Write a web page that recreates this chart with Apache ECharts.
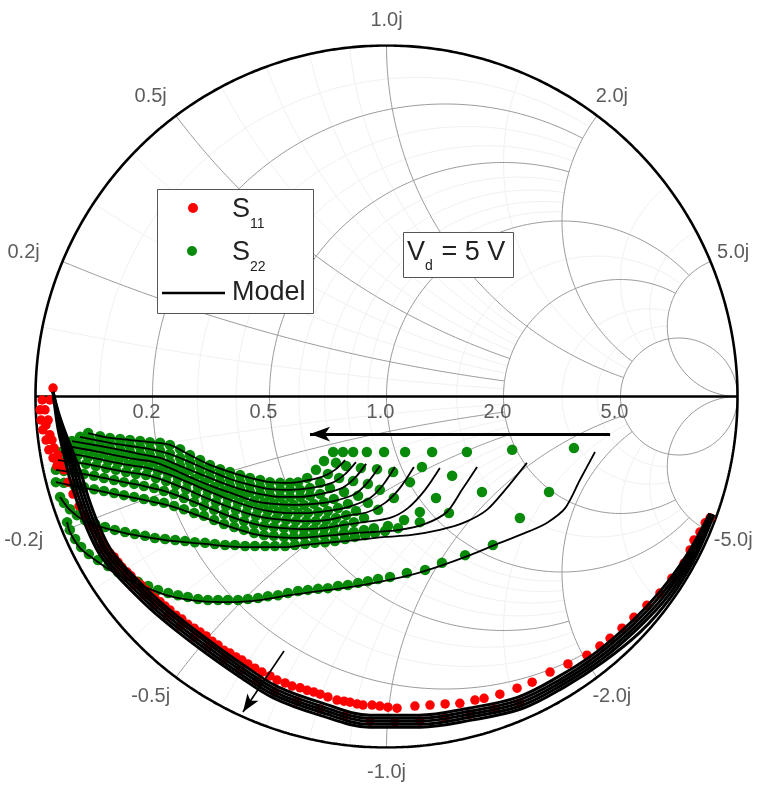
<!DOCTYPE html>
<html>
<head>
<meta charset="utf-8">
<script src="https://cdn.jsdelivr.net/npm/echarts@6/dist/echarts.min.js"></script>
<style>
html,body{margin:0;padding:0;background:#fff}
#chart{width:757px;height:785px}
</style>
</head>
<body>
<div id="chart"></div>
<script>
// Smith chart grid definition (normalized impedance z = r + jx)
const RES = [0.2, 0.5, 1.0, 2.0, 5.0];
const RES_LIMIT = [2, 2, 5, 5, Infinity];
const REA = [0.2, 0.5, 1.0, 2.0, 5.0];
const REA_LIMIT = [2, 2, 5, 5, Infinity];
const RES_MINOR = [0.1, 0.3, 0.4, 0.6, 0.7, 0.8, 0.9, 1.5, 3, 4];
const REA_MINOR = [0.1, 0.3, 0.4, 0.6, 0.7, 0.8, 0.9, 1.5, 3, 4];
const resLabels = ['0.2', '0.5', '1.0', '2.0', '5.0'];
const reaLabels = ['0.2j', '0.5j', '1.0j', '2.0j', '5.0j'];

// Measured S11, reflection coefficient [Re, Im]
const s11Data = [
  [-0.950,0.024],[-0.981,-0.010],[-0.987,-0.038],[-0.984,-0.067],[-0.979,-0.095],[-0.970,-0.124],
  [-0.962,-0.152],[-0.950,-0.175],[-0.939,-0.198],[-0.959,-0.010],[-0.964,-0.067],[-0.953,-0.124],
  [-0.936,-0.167],[-0.973,-0.038],[-0.970,-0.081],[-0.959,-0.109],[-0.947,-0.147],[-0.930,-0.187],
  [-0.919,-0.209],[-0.907,-0.244],[-0.893,-0.278],[-0.876,-0.312],[-0.859,-0.340],[-0.842,-0.369],
  [-0.830,-0.380],[-0.819,-0.397],[-0.808,-0.417],[-0.799,-0.432],[-0.788,-0.446],[-0.776,-0.457],
  [-0.765,-0.472],[-0.754,-0.486],[-0.739,-0.500],[-0.728,-0.511],[-0.714,-0.526],[-0.699,-0.537],
  [-0.685,-0.551],[-0.674,-0.563],[-0.660,-0.574],[-0.645,-0.585],[-0.631,-0.597],[-0.617,-0.608],
  [-0.600,-0.623],[-0.583,-0.634],[-0.566,-0.649],[-0.548,-0.660],[-0.531,-0.671],[-0.514,-0.682],
  [-0.497,-0.697],[-0.480,-0.708],[-0.463,-0.723],[-0.446,-0.731],[-0.429,-0.742],[-0.412,-0.751],
  [-0.395,-0.762],[-0.375,-0.774],[-0.355,-0.785],[-0.332,-0.796],[-0.312,-0.808],[-0.289,-0.816],
  [-0.269,-0.825],[-0.246,-0.830],[-0.226,-0.837],[-0.207,-0.842],[-0.189,-0.848],[-0.167,-0.856],
  [-0.141,-0.865],[-0.121,-0.868],[-0.104,-0.871],[-0.084,-0.876],[-0.067,-0.879],[-0.041,-0.879],
  [-0.019,-0.882],[0.004,-0.885],[0.030,-0.888],[0.081,-0.882],[0.124,-0.879],[0.167,-0.876],
  [0.209,-0.874],[0.252,-0.865],[0.278,-0.860],[0.323,-0.848],[0.372,-0.831],[0.415,-0.814],
  [0.466,-0.785],[0.517,-0.762],[0.571,-0.737],[0.608,-0.711],[0.637,-0.689],[0.671,-0.660],
  [0.705,-0.629],[0.742,-0.595],[0.779,-0.560],[0.813,-0.518],[0.848,-0.475],[0.865,-0.437],
  [0.876,-0.409],[0.893,-0.386],[0.908,-0.360],[0.922,-0.346],
  [-0.805,-0.437],[-0.785,-0.463],[-0.765,-0.489],[-0.742,-0.514],[-0.719,-0.537],[-0.691,-0.566],
  [-0.660,-0.594],[-0.625,-0.625],[-0.588,-0.654],[-0.548,-0.685],[-0.509,-0.714],[-0.463,-0.748],
  [-0.417,-0.779],[-0.369,-0.811],[-0.318,-0.842],[-0.255,-0.868],[-0.189,-0.890],[-0.118,-0.910],
  [-0.047,-0.925],[0.024,-0.927],[0.095,-0.925],[0.167,-0.916],[0.238,-0.905],[0.309,-0.890],
  [0.380,-0.873]
];

// Modelled S11 traces
const s11Model = [
  [[-0.950,0.013],[-0.935,-0.044],[-0.916,-0.100],[-0.894,-0.156],[-0.870,-0.220],[-0.849,-0.289],[-0.823,-0.359],[-0.790,-0.429],[-0.751,-0.480],[-0.705,-0.527],[-0.647,-0.583],[-0.577,-0.641],[-0.499,-0.700],[-0.409,-0.764],[-0.312,-0.826],[-0.185,-0.873],[-0.046,-0.908],[0.093,-0.908],[0.234,-0.888],[0.373,-0.857],[0.485,-0.801],[0.597,-0.729],[0.698,-0.642],[0.779,-0.556],[0.854,-0.454],[0.921,-0.333]],
  [[-0.950,0.013],[-0.937,-0.044],[-0.921,-0.100],[-0.901,-0.157],[-0.879,-0.222],[-0.857,-0.292],[-0.831,-0.363],[-0.798,-0.433],[-0.758,-0.484],[-0.712,-0.532],[-0.654,-0.588],[-0.582,-0.648],[-0.504,-0.707],[-0.413,-0.772],[-0.315,-0.834],[-0.187,-0.882],[-0.047,-0.917],[0.094,-0.917],[0.236,-0.897],[0.377,-0.865],[0.490,-0.809],[0.603,-0.735],[0.705,-0.648],[0.786,-0.561],[0.860,-0.457],[0.924,-0.334]],
  [[-0.950,0.013],[-0.939,-0.044],[-0.925,-0.101],[-0.907,-0.158],[-0.887,-0.224],[-0.865,-0.295],[-0.839,-0.366],[-0.805,-0.437],[-0.765,-0.489],[-0.719,-0.537],[-0.660,-0.594],[-0.588,-0.654],[-0.509,-0.714],[-0.417,-0.779],[-0.318,-0.842],[-0.189,-0.890],[-0.047,-0.925],[0.095,-0.925],[0.238,-0.905],[0.380,-0.873],[0.494,-0.816],[0.608,-0.742],[0.711,-0.654],[0.793,-0.566],[0.865,-0.460],[0.927,-0.335]],
  [[-0.950,0.013],[-0.941,-0.044],[-0.929,-0.102],[-0.913,-0.159],[-0.895,-0.226],[-0.873,-0.298],[-0.847,-0.369],[-0.813,-0.441],[-0.772,-0.494],[-0.726,-0.542],[-0.666,-0.600],[-0.594,-0.660],[-0.514,-0.721],[-0.421,-0.787],[-0.321,-0.850],[-0.191,-0.898],[-0.047,-0.934],[0.096,-0.934],[0.240,-0.913],[0.383,-0.881],[0.498,-0.823],[0.613,-0.749],[0.717,-0.660],[0.800,-0.571],[0.870,-0.463],[0.930,-0.336]],
  [[-0.950,0.013],[-0.943,-0.044],[-0.934,-0.102],[-0.920,-0.160],[-0.904,-0.228],[-0.881,-0.301],[-0.855,-0.373],[-0.820,-0.445],[-0.779,-0.498],[-0.733,-0.547],[-0.673,-0.605],[-0.599,-0.667],[-0.519,-0.728],[-0.425,-0.794],[-0.324,-0.858],[-0.193,-0.907],[-0.048,-0.942],[0.097,-0.942],[0.242,-0.922],[0.387,-0.889],[0.503,-0.830],[0.619,-0.755],[0.724,-0.670],[0.807,-0.576],[0.876,-0.466],[0.933,-0.337]]
];

// Measured S22, one trace per gate bias, low frequency first
const s22Data = [
  [[-0.152,-0.158],[-0.178,-0.184],[-0.201,-0.209],[-0.226,-0.232],[-0.252,-0.244],[-0.275,-0.246],[-0.303,-0.246],[-0.332,-0.244],[-0.360,-0.238],[-0.389,-0.232],[-0.417,-0.224],[-0.446,-0.215],[-0.474,-0.207],[-0.503,-0.195],[-0.531,-0.181],[-0.560,-0.167],[-0.588,-0.150],[-0.617,-0.138],[-0.645,-0.132],[-0.674,-0.130],[-0.702,-0.127],[-0.731,-0.124],[-0.759,-0.121],[-0.788,-0.118],[-0.816,-0.113],[-0.850,-0.104]],
  [[-0.124,-0.158],[-0.144,-0.189],[-0.167,-0.221],[-0.189,-0.246],[-0.218,-0.261],[-0.246,-0.266],[-0.275,-0.266],[-0.303,-0.266],[-0.332,-0.264],[-0.360,-0.258],[-0.389,-0.252],[-0.417,-0.244],[-0.446,-0.235],[-0.474,-0.224],[-0.503,-0.212],[-0.531,-0.201],[-0.560,-0.187],[-0.588,-0.175],[-0.617,-0.164],[-0.645,-0.155],[-0.674,-0.150],[-0.702,-0.144],[-0.731,-0.141],[-0.759,-0.135],[-0.788,-0.132],[-0.816,-0.127],[-0.845,-0.121],[-0.873,-0.115]],
  [[-0.095,-0.158],[-0.115,-0.198],[-0.135,-0.232],[-0.161,-0.261],[-0.189,-0.278],[-0.218,-0.283],[-0.246,-0.286],[-0.275,-0.286],[-0.303,-0.286],[-0.332,-0.283],[-0.360,-0.278],[-0.389,-0.272],[-0.417,-0.264],[-0.446,-0.255],[-0.474,-0.244],[-0.503,-0.232],[-0.531,-0.221],[-0.560,-0.209],[-0.588,-0.198],[-0.617,-0.187],[-0.645,-0.175],[-0.674,-0.167],[-0.702,-0.164],[-0.731,-0.158],[-0.759,-0.152],[-0.788,-0.147],[-0.816,-0.141],[-0.845,-0.135],[-0.873,-0.130],[-0.896,-0.127]],
  [[-0.056,-0.158],[-0.073,-0.204],[-0.095,-0.241],[-0.121,-0.272],[-0.150,-0.292],[-0.178,-0.301],[-0.207,-0.306],[-0.235,-0.309],[-0.264,-0.309],[-0.292,-0.309],[-0.321,-0.306],[-0.349,-0.303],[-0.377,-0.298],[-0.406,-0.286],[-0.434,-0.278],[-0.463,-0.269],[-0.491,-0.258],[-0.520,-0.246],[-0.548,-0.235],[-0.577,-0.221],[-0.605,-0.209],[-0.634,-0.198],[-0.662,-0.187],[-0.691,-0.181],[-0.719,-0.178],[-0.748,-0.172],[-0.776,-0.167],[-0.805,-0.161],[-0.833,-0.155],[-0.862,-0.150],[-0.890,-0.144],[-0.913,-0.141]],
  [[-0.007,-0.158],[-0.027,-0.207],[-0.053,-0.249],[-0.081,-0.283],[-0.110,-0.306],[-0.138,-0.318],[-0.167,-0.326],[-0.195,-0.329],[-0.224,-0.332],[-0.252,-0.332],[-0.281,-0.332],[-0.309,-0.329],[-0.338,-0.326],[-0.366,-0.321],[-0.395,-0.312],[-0.423,-0.303],[-0.452,-0.292],[-0.480,-0.281],[-0.509,-0.269],[-0.537,-0.258],[-0.566,-0.244],[-0.594,-0.232],[-0.622,-0.221],[-0.651,-0.212],[-0.679,-0.204],[-0.708,-0.198],[-0.736,-0.195],[-0.765,-0.189],[-0.793,-0.184],[-0.822,-0.178],[-0.850,-0.172],[-0.879,-0.167],[-0.907,-0.161],[-0.927,-0.158]],
  [[0.053,-0.158],[0.019,-0.215],[-0.019,-0.266],[-0.053,-0.303],[-0.087,-0.326],[-0.115,-0.338],[-0.144,-0.346],[-0.172,-0.352],[-0.201,-0.355],[-0.229,-0.355],[-0.258,-0.355],[-0.286,-0.352],[-0.315,-0.349],[-0.343,-0.346],[-0.372,-0.340],[-0.400,-0.332],[-0.429,-0.323],[-0.457,-0.312],[-0.486,-0.301],[-0.514,-0.289],[-0.543,-0.278],[-0.571,-0.264],[-0.600,-0.252],[-0.628,-0.241],[-0.657,-0.232],[-0.685,-0.224],[-0.714,-0.221],[-0.742,-0.215],[-0.771,-0.209],[-0.799,-0.204],[-0.828,-0.198],[-0.856,-0.192],[-0.885,-0.187],[-0.913,-0.184],[-0.936,-0.181]],
  [[0.130,-0.158],[0.101,-0.201],[0.067,-0.244],[0.021,-0.289],[-0.024,-0.323],[-0.064,-0.346],[-0.093,-0.358],[-0.121,-0.366],[-0.150,-0.372],[-0.178,-0.375],[-0.207,-0.378],[-0.235,-0.378],[-0.264,-0.378],[-0.292,-0.375],[-0.321,-0.372],[-0.349,-0.369],[-0.377,-0.363],[-0.406,-0.355],[-0.434,-0.346],[-0.463,-0.335],[-0.491,-0.323],[-0.520,-0.312],[-0.548,-0.301],[-0.577,-0.289],[-0.605,-0.278],[-0.634,-0.269],[-0.662,-0.261],[-0.691,-0.255],[-0.719,-0.249],[-0.748,-0.244],[-0.776,-0.238],[-0.805,-0.232],[-0.833,-0.226],[-0.862,-0.221],[-0.890,-0.215],[-0.919,-0.212],[-0.942,-0.209]],
  [[0.229,-0.158],[0.187,-0.226],[0.141,-0.289],[0.095,-0.329],[0.050,-0.352],[0.004,-0.369],[-0.036,-0.375],[-0.064,-0.380],[-0.093,-0.386],[-0.121,-0.389],[-0.150,-0.392],[-0.178,-0.395],[-0.207,-0.397],[-0.235,-0.397],[-0.264,-0.400],[-0.292,-0.400],[-0.321,-0.397],[-0.349,-0.395],[-0.377,-0.389],[-0.406,-0.380],[-0.434,-0.372],[-0.463,-0.363],[-0.491,-0.352],[-0.520,-0.340],[-0.548,-0.332],[-0.577,-0.321],[-0.605,-0.312],[-0.634,-0.303],[-0.662,-0.298],[-0.691,-0.292],[-0.719,-0.286],[-0.748,-0.281],[-0.776,-0.275],[-0.805,-0.269],[-0.833,-0.264],[-0.862,-0.258],[-0.890,-0.252],[-0.919,-0.246],[-0.942,-0.244]],
  [[0.358,-0.152],[0.272,-0.272],[0.178,-0.332],[0.095,-0.358],[0.033,-0.375],[-0.004,-0.383],[-0.033,-0.389],[-0.061,-0.395],[-0.090,-0.400],[-0.118,-0.406],[-0.147,-0.412],[-0.175,-0.415],[-0.204,-0.417],[-0.232,-0.420],[-0.261,-0.423],[-0.289,-0.426],[-0.318,-0.426],[-0.346,-0.426],[-0.375,-0.426],[-0.403,-0.426],[-0.432,-0.423],[-0.460,-0.423],[-0.489,-0.420],[-0.517,-0.417],[-0.546,-0.415],[-0.574,-0.412],[-0.602,-0.409],[-0.631,-0.406],[-0.660,-0.403],[-0.688,-0.397],[-0.717,-0.392],[-0.745,-0.386],[-0.774,-0.380],[-0.802,-0.372],[-0.830,-0.363],[-0.859,-0.352],[-0.882,-0.338],[-0.902,-0.321],[-0.919,-0.303],[-0.930,-0.286]],
  [[0.534,-0.147],[0.463,-0.272],[0.380,-0.346],[0.303,-0.423],[0.224,-0.452],[0.158,-0.474],[0.110,-0.494],[0.058,-0.503],[0.010,-0.514],[-0.024,-0.520],[-0.053,-0.526],[-0.081,-0.531],[-0.110,-0.537],[-0.138,-0.540],[-0.167,-0.546],[-0.195,-0.548],[-0.224,-0.551],[-0.252,-0.554],[-0.281,-0.560],[-0.309,-0.566],[-0.338,-0.569],[-0.366,-0.574],[-0.395,-0.577],[-0.423,-0.580],[-0.452,-0.580],[-0.480,-0.580],[-0.509,-0.580],[-0.537,-0.577],[-0.566,-0.571],[-0.594,-0.566],[-0.622,-0.560],[-0.651,-0.551],[-0.679,-0.540],[-0.708,-0.528],[-0.736,-0.514],[-0.765,-0.500],[-0.793,-0.483],[-0.822,-0.466],[-0.848,-0.449],[-0.870,-0.429],[-0.887,-0.406],[-0.902,-0.380],[-0.910,-0.358]]
];

// Modelled S22 traces
const s22Model = [
  [[-0.118,-0.181],[-0.147,-0.209],[-0.184,-0.229],[-0.252,-0.244],[-0.275,-0.246],[-0.332,-0.244],[-0.389,-0.232],[-0.446,-0.215],[-0.503,-0.195],[-0.560,-0.167],[-0.617,-0.138],[-0.674,-0.130],[-0.731,-0.124],[-0.788,-0.118],[-0.850,-0.104]],
  [[-0.087,-0.187],[-0.118,-0.221],[-0.155,-0.246],[-0.218,-0.261],[-0.275,-0.266],[-0.332,-0.264],[-0.389,-0.252],[-0.446,-0.235],[-0.503,-0.212],[-0.560,-0.187],[-0.617,-0.164],[-0.674,-0.150],[-0.731,-0.141],[-0.788,-0.132],[-0.845,-0.121],[-0.873,-0.115]],
  [[-0.058,-0.192],[-0.090,-0.232],[-0.127,-0.261],[-0.189,-0.278],[-0.246,-0.286],[-0.303,-0.286],[-0.360,-0.278],[-0.417,-0.264],[-0.474,-0.244],[-0.531,-0.221],[-0.588,-0.198],[-0.645,-0.175],[-0.702,-0.164],[-0.759,-0.152],[-0.816,-0.141],[-0.896,-0.127]],
  [[-0.019,-0.198],[-0.053,-0.244],[-0.090,-0.278],[-0.150,-0.298],[-0.207,-0.306],[-0.264,-0.309],[-0.321,-0.306],[-0.377,-0.298],[-0.434,-0.278],[-0.491,-0.258],[-0.548,-0.235],[-0.605,-0.209],[-0.662,-0.187],[-0.719,-0.178],[-0.776,-0.167],[-0.833,-0.155],[-0.913,-0.141]],
  [[0.024,-0.201],[-0.010,-0.252],[-0.047,-0.289],[-0.110,-0.315],[-0.167,-0.326],[-0.224,-0.332],[-0.281,-0.332],[-0.338,-0.326],[-0.395,-0.312],[-0.452,-0.292],[-0.509,-0.269],[-0.566,-0.244],[-0.622,-0.221],[-0.679,-0.204],[-0.736,-0.195],[-0.793,-0.184],[-0.850,-0.172],[-0.927,-0.158]],
  [[0.078,-0.201],[0.038,-0.261],[-0.004,-0.303],[-0.053,-0.329],[-0.115,-0.340],[-0.172,-0.352],[-0.229,-0.355],[-0.286,-0.352],[-0.343,-0.346],[-0.400,-0.332],[-0.457,-0.312],[-0.514,-0.289],[-0.571,-0.264],[-0.628,-0.241],[-0.685,-0.224],[-0.742,-0.215],[-0.799,-0.204],[-0.856,-0.192],[-0.936,-0.181]],
  [[0.152,-0.204],[0.110,-0.266],[0.061,-0.318],[0.010,-0.346],[-0.064,-0.358],[-0.121,-0.366],[-0.178,-0.375],[-0.235,-0.378],[-0.292,-0.375],[-0.349,-0.369],[-0.406,-0.355],[-0.463,-0.335],[-0.520,-0.312],[-0.577,-0.289],[-0.634,-0.269],[-0.691,-0.255],[-0.748,-0.244],[-0.805,-0.232],[-0.862,-0.221],[-0.942,-0.209]],
  [[0.258,-0.201],[0.215,-0.266],[0.172,-0.329],[0.110,-0.363],[0.038,-0.380],[-0.036,-0.386],[-0.093,-0.389],[-0.150,-0.395],[-0.207,-0.400],[-0.264,-0.403],[-0.321,-0.400],[-0.377,-0.392],[-0.434,-0.375],[-0.491,-0.355],[-0.548,-0.335],[-0.605,-0.315],[-0.662,-0.301],[-0.719,-0.289],[-0.776,-0.278],[-0.833,-0.266],[-0.890,-0.255],[-0.942,-0.244]],
  [[0.400,-0.189],[0.338,-0.266],[0.286,-0.323],[0.224,-0.358],[0.152,-0.380],[0.067,-0.395],[-0.004,-0.400],[-0.061,-0.406],[-0.118,-0.412],[-0.175,-0.417],[-0.232,-0.423],[-0.289,-0.429],[-0.346,-0.429],[-0.403,-0.429],[-0.460,-0.426],[-0.517,-0.420],[-0.574,-0.415],[-0.631,-0.409],[-0.688,-0.400],[-0.745,-0.389],[-0.802,-0.375],[-0.859,-0.355],[-0.902,-0.323],[-0.930,-0.286]],
  [[0.594,-0.158],[0.551,-0.238],[0.509,-0.318],[0.460,-0.358],[0.409,-0.383],[0.323,-0.417],[0.238,-0.452],[0.152,-0.483],[0.067,-0.509],[-0.019,-0.528],[-0.104,-0.543],[-0.189,-0.554],[-0.275,-0.566],[-0.360,-0.580],[-0.446,-0.586],[-0.531,-0.583],[-0.617,-0.569],[-0.702,-0.537],[-0.774,-0.503],[-0.830,-0.466],[-0.873,-0.432],[-0.902,-0.386],[-0.910,-0.358]]
];

// Direction arrows: [from, to] in the reflection plane
const arrowBias = [[0.637, -0.107], [-0.218, -0.107]];
const arrowS11 = [[-0.292, -0.725], [-0.409, -0.899]];

const FONT = 'Liberation Sans, Arial, Helvetica, sans-serif';

// z -> reflection coefficient
function gamma(r, x) {
  const d = (r + 1) * (r + 1) + x * x;
  return [(r * r - 1 + x * x) / d, 2 * x / d];
}
function resistanceCircle(r, xMax) {
  const a = isFinite(xMax) ? Math.atan(xMax) : Math.PI / 2 - 1e-4;
  const pts = [], n = 400;
  for (let i = 0; i <= n; i++) pts.push(gamma(r, Math.tan(-a + 2 * a * i / n)));
  return pts;
}
function reactanceArc(x, rMax) {
  const a = isFinite(rMax) ? Math.atan(rMax) : Math.PI / 2 - 1e-4;
  const pts = [], n = 300;
  for (let i = 0; i <= n; i++) pts.push(gamma(Math.tan(a * i / n), x));
  return pts;
}
function gridSeries(pts, color, width, z) {
  return { type: 'line', data: pts, showSymbol: false, symbol: 'none', silent: true, z: z,
    lineStyle: { color: color, width: width }, animation: false };
}

const series = [];
// minor grid
RES_MINOR.forEach(r => series.push(gridSeries(resistanceCircle(r, r < 1 ? 2 : 5), '#f1f1f1', 1, 1)));
REA_MINOR.forEach(x => {
  const lim = x < 1 ? 2 : 5;
  series.push(gridSeries(reactanceArc(x, lim), '#f1f1f1', 1, 1));
  series.push(gridSeries(reactanceArc(-x, lim), '#f1f1f1', 1, 1));
});
// major grid
RES.forEach((r, i) => series.push(gridSeries(resistanceCircle(r, RES_LIMIT[i]), '#9a9a9a', 1, 2)));
REA.forEach((x, i) => {
  series.push(gridSeries(reactanceArc(x, REA_LIMIT[i]), '#9a9a9a', 1, 2));
  series.push(gridSeries(reactanceArc(-x, REA_LIMIT[i]), '#9a9a9a', 1, 2));
});
// unit circle
const rim = [];
for (let i = 0; i <= 720; i++) { const t = 2 * Math.PI * i / 720; rim.push([Math.cos(t), Math.sin(t)]); }
series.push(gridSeries(rim, '#000', 2.6, 3));
// real axis with arrows
series.push({
  type: 'line', data: [[-1, 0], [1, 0]], symbol: 'none', silent: true, z: 3,
  lineStyle: { color: '#000', width: 2.6 }, animation: false,
  markLine: {
    silent: true, symbol: ['none', 'arrow'], animation: false, z: 9,
    label: { show: false },
    data: [
      [{ coord: arrowBias[0], symbolSize: 0 }, { coord: arrowBias[1], symbolSize: [11, 20] }],
      [{ coord: arrowS11[0], symbolSize: 0, lineStyle: { width: 1.6 } }, { coord: arrowS11[1], symbolSize: [10, 18] }]
    ],
    lineStyle: { color: '#000', width: 2.8, type: 'solid' }
  }
});

// labels
const resLabelData = RES.map((r, i) => ({ value: gamma(r, 0), label: { formatter: resLabels[i] } }));
series.push({
  type: 'scatter', data: resLabelData, symbolSize: 0, silent: true, z: 4, clip: false,
  label: { show: true, position: 'bottom', distance: 6, offset: [-6, 0], color: '#333', fontSize: 20, fontFamily: FONT }
});
const reaLabelData = [];
REA.forEach((x, i) => {
  [1, -1].forEach(s => {
    const g = gamma(0, s * x);
    const px = 1.07 * g[0] + (g[0] < 0 ? 0.05 * g[0] : 0);
    reaLabelData.push({ value: [px, 1.07 * g[1]], label: { formatter: (s < 0 ? '-' : '') + reaLabels[i] } });
  });
});
series.push({
  type: 'scatter', data: reaLabelData, symbolSize: 0, silent: true, z: 4, clip: false,
  label: { show: true, position: 'inside', color: '#333', fontSize: 20, fontFamily: FONT }
});

// measured data
series.push({
  type: 'scatter', name: 'S22', data: s22Data.flat(), symbolSize: 10.5, z: 5,
  itemStyle: { color: '#0a8a0a', opacity: 1 }, animation: false
});
series.push({
  type: 'scatter', name: 'S11', data: s11Data, symbolSize: 9.5, z: 6,
  itemStyle: { color: '#ff0000', opacity: 1 }, animation: false
});
// model traces
s22Model.forEach(tr => series.push({
  type: 'line', data: tr, symbol: 'none', smooth: 0.3, z: 7, silent: true,
  lineStyle: { color: '#000', width: 1.8 }, animation: false
}));
s11Model.forEach(tr => series.push({
  type: 'line', data: tr, symbol: 'none', smooth: 0.35, z: 8, silent: true,
  lineStyle: { color: '#000', width: 3 }, animation: false
}));

const chart = echarts.init(document.getElementById('chart'), null, { renderer: 'canvas' });
chart.setOption({
  animation: false,
  backgroundColor: '#fff',
  grid: { left: 35.5, top: 45.5, width: 702, height: 702, containLabel: false },
  xAxis: { type: 'value', min: -1, max: 1, show: false },
  yAxis: { type: 'value', min: -1, max: 1, show: false },
  series: series,
  graphic: [
    // legend box
    { type: 'rect', shape: { x: 157.5, y: 189.5, width: 156, height: 124 }, style: { fill: '#fff', stroke: '#555', lineWidth: 1 }, z: 20 },
    { type: 'circle', shape: { cx: 193, cy: 208, r: 5 }, style: { fill: '#ff0000' }, z: 21 },
    { type: 'circle', shape: { cx: 192, cy: 251, r: 5 }, style: { fill: '#0a8a0a' }, z: 21 },
    { type: 'line', shape: { x1: 162, y1: 293, x2: 225, y2: 293 }, style: { stroke: '#000', lineWidth: 2.6 }, z: 21 },
    { type: 'text', x: 232, y: 210, style: { text: 'S', font: '27px ' + FONT, fill: '#222', verticalAlign: 'middle' }, z: 21 },
    { type: 'text', x: 250, y: 224, style: { text: '11', font: '14px ' + FONT, fill: '#222', verticalAlign: 'middle' }, z: 21 },
    { type: 'text', x: 232, y: 253, style: { text: 'S', font: '27px ' + FONT, fill: '#222', verticalAlign: 'middle' }, z: 21 },
    { type: 'text', x: 250, y: 267, style: { text: '22', font: '14px ' + FONT, fill: '#222', verticalAlign: 'middle' }, z: 21 },
    { type: 'text', x: 232, y: 293, style: { text: 'Model', font: '27px ' + FONT, fill: '#222', verticalAlign: 'middle' }, z: 21 },
    // bias annotation
    { type: 'rect', shape: { x: 403.5, y: 232.5, width: 110, height: 45 }, style: { fill: '#fff', stroke: '#555', lineWidth: 1 }, z: 20 },
    { type: 'text', x: 407, y: 253, style: { text: 'V', font: '27px ' + FONT, fill: '#222', verticalAlign: 'middle' }, z: 21 },
    { type: 'text', x: 425, y: 266, style: { text: 'd', font: '14px ' + FONT, fill: '#222', verticalAlign: 'middle' }, z: 21 },
    { type: 'text', x: 434, y: 253, style: { text: ' = 5 V', font: '27px ' + FONT, fill: '#222', verticalAlign: 'middle' }, z: 21 }
  ]
});
</script>
</body>
</html>
